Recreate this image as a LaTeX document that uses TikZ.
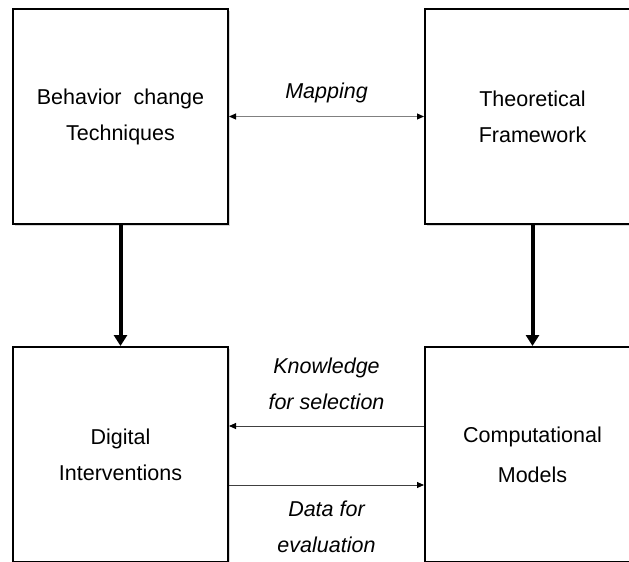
\documentclass[tikz,border=0pt]{standalone}
\usepackage{fontspec}
\setmainfont{Liberation Sans}
\usetikzlibrary{arrows.meta,shadows}
\begin{document}
\begin{tikzpicture}[x=1pt,y=1pt,
  block/.style={draw=black, line width=2pt, fill=white,
    minimum width=215pt, minimum height=215pt, inner sep=0pt,
    align=center, font=\fontsize{21.5}{36}\selectfont,
    drop shadow={shadow xshift=1.5pt, shadow yshift=-2pt, opacity=0.3}},
  flow/.style={line width=4pt, -{Triangle[width=13pt,length=11pt]}},
  link/.style={line width=0.9pt},
  lbl/.style={inner sep=0pt, align=center,
    font=\fontsize{21.5}{36}\selectfont\itshape}
]
\useasboundingbox (0,0) rectangle (629,-562);
\fill[white] (0,0) rectangle (629,-562);
\clip (0,0) rectangle (629,-562);

% four blocks
\node[block] (bct) at (120.5,-116.5) {Behavior\hspace{6pt} change\\Techniques};
\node[block] (tf)  at (532.5,-116.5) {Theoretical\\Framework};
\node[block] (di)  at (120.5,-454.5) {Digital\\Interventions};
\node[block] (cm)  at (532.5,-454.5) {Computational\\[4pt]Models};

% vertical flows
\draw[flow] (bct) -- (di);
\draw[flow] (tf) -- (cm);

% mapping between techniques and framework
\draw[link, draw=black!50, {Triangle[width=6pt,length=7pt,color=black]}-{Triangle[width=6pt,length=7pt,color=black]}]
  (bct) -- node[lbl, above=13pt] {Mapping} (tf);

% exchanges between models and interventions
\draw[link, draw=black!75, -{Triangle[width=6pt,length=7pt,color=black]}]
  ([yshift=28.5pt]cm.west) -- node[lbl, above=16pt] {Knowledge\\for selection} ([yshift=28.5pt]di.east);
\draw[link, draw=black!75, -{Triangle[width=6pt,length=7pt,color=black]}]
  ([yshift=-30.5pt]di.east) -- node[lbl, below=15pt] {Data for\\evaluation} ([yshift=-30.5pt]cm.west);
\end{tikzpicture}
\end{document}
